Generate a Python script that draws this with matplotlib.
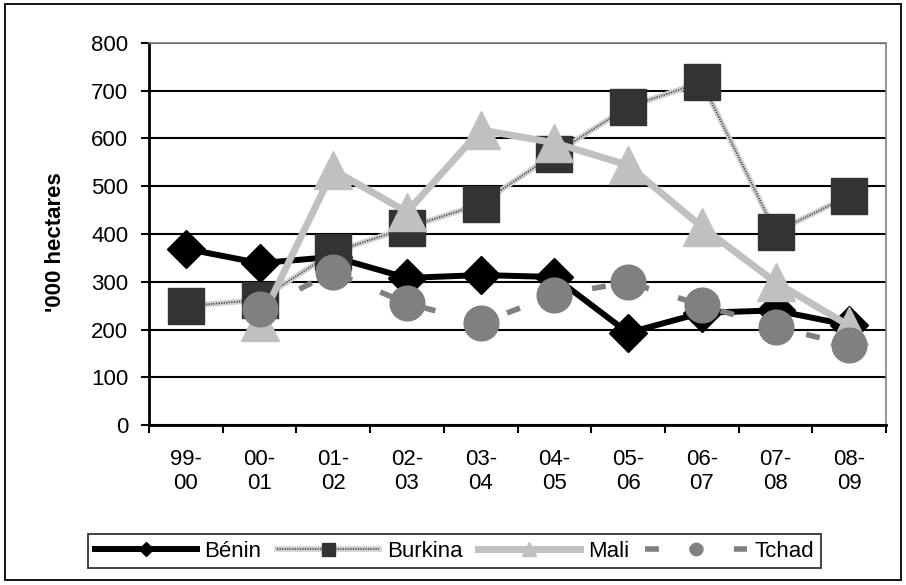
import matplotlib
matplotlib.use("Agg")
import matplotlib.pyplot as plt
from matplotlib.patches import Rectangle
from matplotlib.legend_handler import HandlerTuple
import numpy as np

plt.rcParams['font.family'] = ['Liberation Sans', 'DejaVu Sans']

seasons = ["99-\n00", "00-\n01", "01-\n02", "02-\n03", "03-\n04",
           "04-\n05", "05-\n06", "06-\n07", "07-\n08", "08-\n09"]

benin = [369, 339, 352, 308, 314, 310, 193, 235, 240, 209]
burkina = [249, 262, 362, 413, 463, 568, 666, 718, 404, 480]
mali = [np.nan, 215, 534, 446, 618, 591, 544, 415, 299, 208]
tchad = [np.nan, 243, 320, 255, 214, 272, 299, 251, 205, 168]

x = np.arange(len(seasons))

fig = plt.figure(figsize=(9.06, 5.85), dpi=100)
ax = fig.add_axes([0.1645, 0.2735, 0.8135, 0.653])

for v in range(0, 801, 100):
    ax.axhline(v, color='black', lw=1.5, zorder=0)

h_benin, = ax.plot(x, benin, color='black', lw=4.3, marker='D', ms=19,
                   mfc='black', mec='black', zorder=2)
b_base, = ax.plot(x, burkina, color='#d0d0d0', lw=4, zorder=3)
b_dots, = ax.plot(x, burkina, color='#505050', lw=1.3, dashes=(0.7, 0.7),
                  marker='s', ms=26, mfc='#333333', mec='#333333', zorder=3)
h_mali, = ax.plot(x, mali, color='#c0c0c0', lw=5, marker='^', ms=27,
                  mfc='#c0c0c0', mec='#c0c0c0', zorder=4)
h_tchad, = ax.plot(x, tchad, color='#808080', lw=4, dashes=(2.5, 5.5),
                   marker='o', ms=25, mfc='#808080', mec='#808080', zorder=5)

ax.set_xlim(-0.5, 9.5)
ax.set_ylim(0, 800)
ax.set_yticks(range(0, 801, 100))
ax.set_xticks(x)
ax.set_xticklabels(seasons, fontsize=16)
ax.set_xticks(np.arange(-0.5, 10, 1), minor=True)
ax.tick_params(axis='x', which='major', length=0, pad=17)
ax.tick_params(axis='x', which='minor', length=6, width=1.5, direction='out')
ax.tick_params(axis='y', length=6, width=1.5, labelsize=16, pad=9)

ax.spines['left'].set_linewidth(2)
ax.spines['bottom'].set_linewidth(2)
for s in ['top', 'right']:
    ax.spines[s].set_color('#808080')
    ax.spines[s].set_linewidth(1.2)

ax.set_ylabel("'000 hectares", fontsize=16, fontweight='bold',
              family=['Liberation Sans Narrow', 'Liberation Sans'])
ax.yaxis.set_label_coords(-0.1126, 0.479)

leg = fig.legend([h_benin, (b_base, b_dots), h_mali, h_tchad],
                 ['Bénin', 'Burkina', 'Mali', 'Tchad'],
                 handler_map={tuple: HandlerTuple(ndivide=1)},
                 loc='center', bbox_to_anchor=(0.5017, 0.058), ncol=4,
                 fontsize=16, frameon=True, fancybox=False, edgecolor='black',
                 handlelength=4.6, handletextpad=0.35, columnspacing=0.7,
                 borderpad=0.3, borderaxespad=0, markerscale=0.36)
leg.get_frame().set_linewidth(1.3)

fig.patches.append(Rectangle((0.006, 0.008), 0.989, 0.985, transform=fig.transFigure,
                             fill=False, edgecolor='black', lw=1.3))

fig.savefig("out.png", dpi=100)
